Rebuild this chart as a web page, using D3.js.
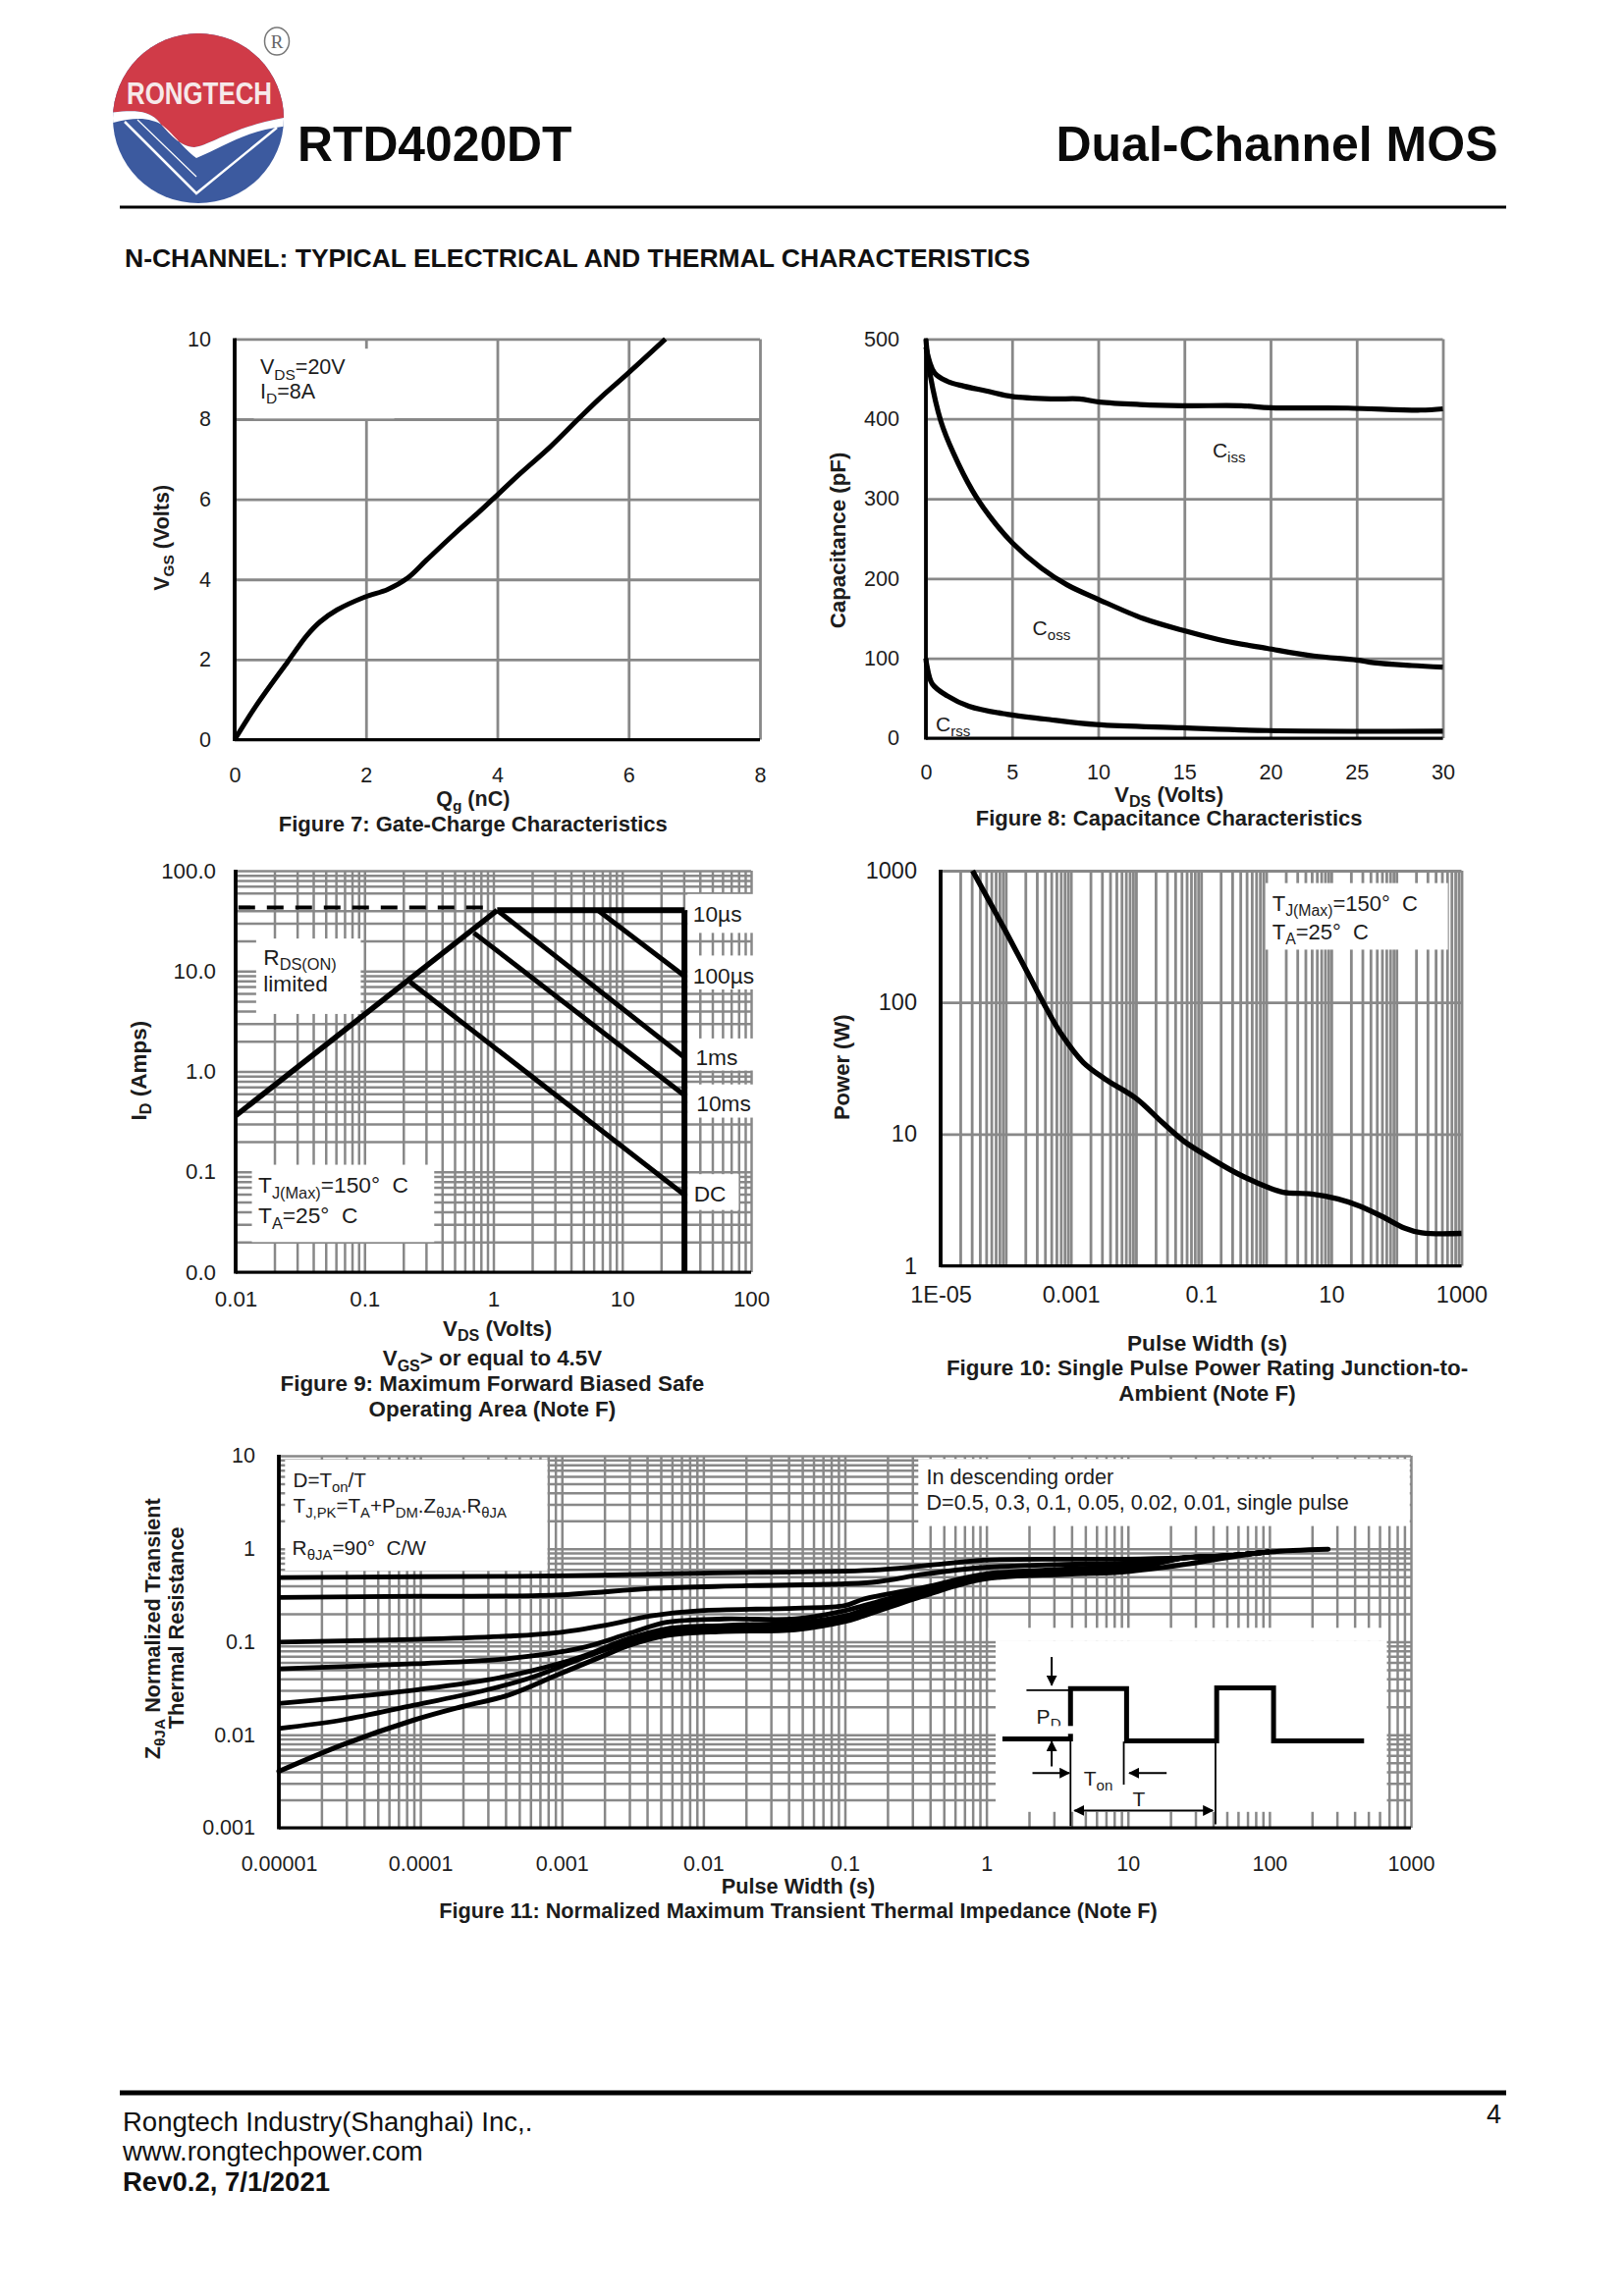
<!DOCTYPE html>
<html><head><meta charset="utf-8">
<script src="https://cdn.jsdelivr.net/npm/d3@7/dist/d3.min.js"></script>
<style>html,body{margin:0;padding:0;background:#fff}svg{display:block}text{font-family:"Liberation Sans",Arial,sans-serif;fill:#1c1c1c}</style>
</head><body><svg id="page" width="1654" height="2339" viewBox="0 0 1654 2339"></svg>
<script>
// ---------- Figure 7 ----------
const gateQg = [0,0.32,0.81,1.1,1.3,1.56,1.98,2.33,2.63,2.92,3.37,3.7,3.95,4.34,4.8,5.25,5.58,5.96,6.56];
const gateVgs = [0,0.83,1.95,2.6,2.94,3.24,3.56,3.75,4.03,4.48,5.17,5.65,6.03,6.63,7.3,8.03,8.55,9.1,10];
const gateXTicks = [0,2,4,6,8];
const gateYTicks = [0,2,4,6,8,10];
// ---------- Figure 8 ----------
const cissV = [0,0.5,1.24,2.2,3.5,5,7.4,8.9,10.1,12.4,14.9,18.3,20,24.5,28.7,30];
const cissC = [490,457.6,447,441,435,428,425,425,421,418,416.5,416.5,414,413.5,411,412.6];
const cossV = [0,0.05,0.25,0.87,1.6,2.7,3.7,5,6.7,8.2,10,12.6,15.1,17.3,19.8,22.5,25,26,28.2,30];
const cossC = [500,488,455,397,357,310,278,245,213,192,174,150,134,122,112.5,103,98,94.5,91,89];
const crssV = [0,0.05,0.37,1.24,2.5,4.7,6.9,9.9,14.9,19.8,30];
const crssC = [100,92,68,53,40,30,24,17,13,9.5,8.7];
const capXTicks = [0,5,10,15,20,25,30];
const capYTicks = [0,100,200,300,400,500];
// ---------- Figure 9 ----------
const soaRdsV = [0.01,1.07];      const soaRdsI = [0.362,40.3];
const soaTopV = [1.07,30.4];      const soaTopI = [40.3,40.3];
const soaEdgeV = [30.4,30.4];     const soaEdgeI = [40.3,0.01];
const soa10usV = [6.46,30.4];     const soa10usI = [40.3,8.9];
const soa100usV = [1.07,30.4];    const soa100usI = [40.3,1.38];
const soa1msV = [0.706,30.4];     const soa1msI = [24,0.58];
const soaDcV = [0.225,30.4];      const soaDcI = [7.8,0.059];
const soaLimitV = [0.0105,0.85];  const soaLimitI = [43,43];
const soaXTicks = [0.01,0.1,1,10,100];
const soaXLabels = ["0.01","0.1","1","10","100"];
const soaYTicks = [0.01,0.1,1,10,100];
const soaYLabels = ["0.0","0.1","1.0","10.0","100.0"];
// ---------- Figure 10 ----------
const powerT = [3.09e-5,9.55e-5,2.09e-4,4.17e-4,7.16e-4,1.55e-3,3.39e-3,0.01,0.0257,0.055,0.141,0.355,1.06,1.82,5.01,12.6,27.5,60.3,132,245,1000];
const powerW = [1000,361,174,90.8,57.3,35,26.1,18.7,12.2,8.81,6.55,5.04,3.94,3.62,3.51,3.22,2.84,2.37,1.94,1.78,1.76];
const powerXTicks = [1e-5,1e-3,0.1,10,1000];
const powerXLabels = ["1E-05","0.001","0.1","10","1000"];
const powerYTicks = [1,10,100,1000];
// ---------- Figure 11 ----------
const tailT = [25.5,49,100];
const tailZ = [0.80,0.84,0.925];
const z05T = [1e-5,9e-5,9.2e-4,9.5e-3,0.155,0.363,0.97,3.6,9.5];
const z05Z = [0.49,0.50,0.51,0.547,0.589,0.655,0.753,0.773,0.773];
const z03T = [1e-5,9e-5,9.2e-4,4.4e-3,0.0206,0.155,0.363,0.97,3.6,9.5];
const z03Z = [0.30,0.308,0.318,0.375,0.40,0.435,0.533,0.63,0.68,0.70];
const z01T = [1e-5,9e-5,4.2e-4,9.2e-4,2e-3,4.4e-3,9.5e-3,0.0447,0.1,0.136,0.363,0.97,3.6,9.5];
const z01Z = [0.099,0.106,0.115,0.125,0.15,0.191,0.216,0.229,0.245,0.288,0.385,0.533,0.604,0.65];
const z005T = [1e-5,9e-5,4.2e-4,1.36e-3,2.95e-3,5.5e-3,0.014,0.0447,0.1,0.136,0.363,0.97,3.6,9.5];
const z005Z = [0.051,0.058,0.066,0.0855,0.122,0.162,0.176,0.176,0.216,0.245,0.369,0.512,0.579,0.62];
const z002T = [1e-5,2.8e-5,9e-5,2.9e-4,6.3e-4,1.36e-3,2.95e-3,5.5e-3,0.014,0.0447,0.1,0.136,0.363,0.97,3.6,9.5];
const z002Z = [0.0217,0.025,0.0302,0.0386,0.0493,0.0685,0.108,0.138,0.15,0.16,0.19,0.22,0.34,0.492,0.556,0.60];
const z001T = [1e-5,2.8e-5,9e-5,2.9e-4,6.3e-4,1.36e-3,2.95e-3,5.5e-3,0.014,0.0447,0.1,0.136,0.363,0.97,3.6,9.5];
const z001Z = [0.0117,0.0144,0.0208,0.0302,0.0419,0.0658,0.0995,0.127,0.138,0.145,0.175,0.20,0.326,0.48,0.547,0.585];
const zSingleT = [1e-5,2.8e-5,9e-5,1.95e-4,4.2e-4,9.2e-4,2e-3,2.95e-3,5.5e-3,0.014,0.0447,0.1,0.136,0.363,0.97,3.6,9.5,25.5,49,100,260];
const zSingleZ = [0.00404,0.00778,0.0144,0.02,0.0267,0.0437,0.0714,0.091,0.117,0.129,0.135,0.165,0.19,0.313,0.472,0.533,0.565,0.68,0.80,0.925,0.99];
const zXTicks = [1e-5,1e-4,1e-3,0.01,0.1,1,10,100,1000];
const zXLabels = ["0.00001","0.0001","0.001","0.01","0.1","1","10","100","1000"];
const zYTicks = [0.001,0.01,0.1,1,10];
const zYLabels = ["0.001","0.01","0.1","1","10"];

// ---------- helpers ----------
const svg = d3.select("#page");
const GRID = "#888888";
const zip = (a,b) => a.map((v,i)=>[v,b[i]]);

function rich(g,x,y,str,o={}){
  const fs=o.size||21;
  const t=g.append("text").attr("x",x).attr("y",y).attr("font-size",fs)
    .attr("text-anchor",o.anchor||"start").attr("font-weight",o.bold?"700":"400");
  if(o.rotate) t.attr("transform",`rotate(-90,${x},${y})`);
  const parts=str.split(/_\{([^}]*)\}/);
  let shift=0;
  parts.forEach((p,i)=>{
    if(p==="") return;
    const sub=i%2===1, d=fs*0.24;
    const ts=t.append("tspan").text(p);
    if(sub){ ts.attr("font-size",fs*0.72).attr("dy",d); shift=d; }
    else if(shift){ ts.attr("dy",-shift); shift=0; }
  });
  return t;
}

function panel(c){
  const g=svg.append("g");
  const x=(c.xLog?d3.scaleLog():d3.scaleLinear()).domain(c.xDomain).range([c.L,c.R]);
  const y=(c.yLog?d3.scaleLog():d3.scaleLinear()).domain(c.yDomain).range([c.B,c.T]);
  const w=c.R-c.L,h=c.B-c.T;
  const ax=d3.scaleLinear().domain(c.zx).range([c.L,c.R]);
  const ay=d3.scaleLinear().domain(c.zy).range([c.T,c.B]);
  const xGrid=c.xLog?x.ticks():c.xTicks;
  let yGrid=c.yGridVals||(c.yLog?y.ticks():c.yTicks);
  g.append("g").attr("transform",`translate(0,${c.B})`)
    .call(d3.axisBottom(x).tickValues(xGrid).tickSize(-h).tickFormat(""))
    .call(s=>s.select(".domain").remove())
    .selectAll("line").attr("stroke",GRID).attr("stroke-width",c.gridW||2.5);
  g.append("g").attr("transform",`translate(${c.L},0)`)
    .call(d3.axisLeft(y).tickValues(yGrid).tickSize(-w).tickFormat(""))
    .call(s=>s.select(".domain").remove())
    .selectAll("line").attr("stroke",GRID).attr("stroke-width",c.gridW||2.5);
  (c.masks||[]).forEach(m=>{
    const fx=m[4]||ax;
    g.append("rect").attr("x",fx(m[0])).attr("y",ay(m[1]))
     .attr("width",fx(m[2])-fx(m[0])).attr("height",ay(m[3])-ay(m[1])).attr("fill","#fff");
  });
  g.append("line").attr("x1",c.L).attr("x2",c.L).attr("y1",c.T-1).attr("y2",c.B+1.5).attr("stroke","#000").attr("stroke-width",3.8);
  g.append("line").attr("x1",c.L).attr("x2",c.R).attr("y1",c.B).attr("y2",c.B).attr("stroke","#000").attr("stroke-width",3.2);
  const xa=g.append("g").attr("transform",`translate(0,${c.B})`)
    .call(d3.axisBottom(x).tickValues(c.xTicks).tickSize(0).tickPadding(c.xPad)
      .tickFormat((d,i)=>c.xLabels?c.xLabels[i]:String(d)));
  const ya=g.append("g").attr("transform",`translate(${c.L},0)`)
    .call(d3.axisLeft(y).tickValues(c.yTicks).tickSize(0).tickPadding(c.yPad)
      .tickFormat((d,i)=>c.yLabels?c.yLabels[i]:String(d)));
  [xa,ya].forEach(a=>{a.select(".domain").remove();
    a.selectAll("text").attr("font-size",c.tick||21.5).attr("font-family",'"Liberation Sans"').attr("fill","#1c1c1c");});
  return {g,x,y,ax,ay};
}
function curve(p,xs,ys,o={}){
  const line=d3.line().x(d=>p.x(d[0])).y(d=>p.y(d[1]));
  if(!o.straight) line.curve(d3.curveCatmullRom.alpha(0.5));
  p.g.append("path").attr("d",line(zip(xs,ys))).attr("fill","none").attr("stroke","#000")
    .attr("stroke-width",o.w||5).attr("stroke-dasharray",o.dash||null)
    .attr("stroke-linejoin","round").attr("stroke-linecap",o.cap||"butt");
}

// ---------- header ----------
const logo=svg.append("g");
const defs=svg.append("defs");
defs.append("clipPath").attr("id","lc").append("ellipse").attr("cx",202).attr("cy",120.5).attr("rx",87).attr("ry",86.5);
const lg=logo.append("g").attr("clip-path","url(#lc)");
lg.append("rect").attr("x",110).attr("y",30).attr("width",185).attr("height",180).attr("fill","#3c5a9f");
lg.append("path").attr("d","M110,115 C135,112 150,112 160,122 C172,136 184,150 198,150 C215,148 238,128 295,119 L295,30 L110,30 Z").attr("fill","#d03b48");
lg.append("path").attr("d","M110,115 C135,112 150,112 160,122 C172,136 184,150 198,150 C215,148 238,128 295,119 L295,128 C250,132 228,150 200,161 C184,150 170,125 155,123 C142,119 128,122 110,126 Z").attr("fill","#fff");
lg.append("path").attr("d","M127,124 L200,197 L282,130").attr("fill","none").attr("stroke","#fff").attr("stroke-width",2.5);
lg.append("path").attr("d","M140,122 L200,180").attr("fill","none").attr("stroke","#fff").attr("stroke-width",1.2);
logo.append("text").attr("x",129).attr("y",106).attr("font-size",31).attr("font-weight",700).attr("textLength",148)
  .attr("lengthAdjust","spacingAndGlyphs").style("fill","#f6e9ea").text("RONGTECH");
logo.append("ellipse").attr("cx",282).attr("cy",42).attr("rx",12.5).attr("ry",14).attr("fill","#fff").attr("stroke","#777").attr("stroke-width",1.5);
logo.append("text").attr("x",282).attr("y",49).attr("text-anchor","middle").attr("font-size",19)
  .style("font-family",'"Liberation Serif"').style("fill","#666").text("R");
const hdr=svg.append("g");
hdr.append("text").attr("x",303).attr("y",164).attr("font-size",49.8).attr("font-weight",700).style("fill","#0a0a0a").text("RTD4020DT");
hdr.append("text").attr("x",1525.5).attr("y",164).attr("text-anchor","end").attr("font-size",50).attr("font-weight",700).style("fill","#0a0a0a").text("Dual-Channel MOS");
hdr.append("line").attr("x1",122).attr("x2",1534).attr("y1",211).attr("y2",211).attr("stroke","#000").attr("stroke-width",3);
hdr.append("text").attr("x",127).attr("y",272).attr("font-size",26.5).attr("font-weight",700).style("fill","#111").text("N-CHANNEL: TYPICAL ELECTRICAL AND THERMAL CHARACTERISTICS");

// ---------- Fig 7 ----------
{
 const p=panel({L:239,R:774,T:345.4,B:753.5,xDomain:[0,8],yDomain:[0,10],xTicks:gateXTicks,yTicks:gateYTicks,
   xPad:28,yPad:24,gridW:2.8,zx:[250,1484],zy:[72,1237],masks:[[295,100,625,303]]});
 curve(p,gateQg,gateVgs,{w:5});
 const {g,ax,ay}=p;
 rich(g,ax(310),ay(175),"V_{DS}=20V",{size:21.5});
 rich(g,ax(310),ay(245),"I_{D}=8A",{size:21.5});
 rich(g,ax(810),ay(1430),"Q_{g} (nC)",{bold:1,anchor:"middle",size:21.5});
 rich(g,ax(810),ay(1503),"Figure 7: Gate-Charge Characteristics",{bold:1,anchor:"middle",size:22});
 rich(g,ax(95),ay(650),"V_{GS} (Volts)",{bold:1,anchor:"middle",rotate:1,size:21.5});
}
// ---------- Fig 8 ----------
{
 const p=panel({L:943,R:1469.5,T:345.4,B:752,xDomain:[0,30],yDomain:[0,500],xTicks:capXTicks,yTicks:capYTicks,tick:21.6,
   xPad:27,yPad:27,gridW:2.8,zx:[260,1472],zy:[72,1228]});
 curve(p,cissV,cissC,{w:5.2}); curve(p,cossV,cossC,{w:5.2}); curve(p,crssV,crssC,{w:5.2});
 const {g,ax,ay}=p;
 rich(g,ax(932),ay(415),"C_{iss}");
 rich(g,ax(510),ay(930),"C_{oss}");
 rich(g,ax(283),ay(1207),"C_{rss}");
 rich(g,ax(830),ay(1412),"V_{DS} (Volts)",{bold:1,anchor:"middle",size:22.3});
 rich(g,ax(830),ay(1480),"Figure 8: Capacitance Characteristics",{bold:1,anchor:"middle",size:22});
 rich(g,ax(72),ay(655),"Capacitance (pF)",{bold:1,anchor:"middle",rotate:1,size:22.3});
}
// ---------- Fig 9 ----------
{
 const p=panel({L:240,R:765,T:887,B:1296,xLog:1,yLog:1,xDomain:[0.01,100],yDomain:[0.01,100],tick:22.3,
   xTicks:soaXTicks,xLabels:soaXLabels,yTicks:soaYTicks,yLabels:soaYLabels,xPad:19,yPad:20,zx:[277,1484],zy:[45,1110],
   yGridVals:d3.scaleLog().domain([0.01,100]).ticks().filter(d=>d!==50),
   masks:[[325,225,570,425],[315,825,742,1030],[1335,107,1495,210],[1335,270,1495,360],[1335,490,1495,575],[1335,612,1495,700],[1335,850,1455,945]]});
 curve(p,soaEdgeV,soaEdgeI,{w:6,straight:1});
 curve(p,soaTopV,soaTopI,{w:6,straight:1});
 curve(p,soaRdsV,soaRdsI,{w:5.6,straight:1});
 curve(p,soa10usV,soa10usI,{w:5,straight:1});
 curve(p,soa100usV,soa100usI,{w:5,straight:1});
 curve(p,soa1msV,soa1msI,{w:5,straight:1});
 curve(p,soaDcV,soaDcI,{w:5,straight:1});
 curve(p,soaLimitV,soaLimitI,{w:4.2,straight:1,dash:"17 12"});
 const {g,ax,ay}=p;
 const s9=22.7;
 rich(g,ax(342),ay(295),"R_{DS(ON)}",{size:s9});
 rich(g,ax(342),ay(365),"limited",{size:s9});
 rich(g,ax(330),ay(900),"T_{J(Max)}=150°\u00A0\u00A0C",{size:s9});
 rich(g,ax(330),ay(980),"T_{A}=25°\u00A0\u00A0C",{size:s9});
 rich(g,ax(1348),ay(180),"10µs",{size:s9});
 rich(g,ax(1348),ay(345),"100µs",{size:s9});
 rich(g,ax(1354),ay(560),"1ms",{size:s9});
 rich(g,ax(1356),ay(682),"10ms",{size:s9});
 rich(g,ax(1350),ay(922),"DC",{size:s9});
 rich(g,ax(890),ay(1278),"V_{DS} (Volts)",{bold:1,anchor:"middle",size:22.3});
 rich(g,ax(878),ay(1358),"V_{GS}> or equal to 4.5V",{bold:1,anchor:"middle",size:22.3});
 rich(g,ax(878),ay(1426),"Figure 9: Maximum Forward Biased Safe",{bold:1,anchor:"middle",size:22.4});
 rich(g,ax(878),ay(1494),"Operating Area (Note F)",{bold:1,anchor:"middle",size:22.4});
 rich(g,ax(68),ay(575),"I_{D} (Amps)",{bold:1,anchor:"middle",rotate:1,size:22.5});
}
// ---------- Fig 10 ----------
{
 const p=panel({L:958,R:1488.5,T:887,B:1289.5,xLog:1,yLog:1,xDomain:[1e-5,1000],yDomain:[1,1000],tick:23.5,
   xTicks:powerXTicks,xLabels:powerXLabels,yTicks:powerYTicks,yGridVals:powerYTicks,xPad:21,yPad:24,zx:[285,1471],zy:[45,1096],
   gridW:2.8,masks:[[1025,78,1440,255]]});
 curve(p,powerT,powerW,{w:5.4});
 const {g,ax,ay}=p;
 rich(g,ax(1040),ay(152),"T_{J(Max)}=150°\u00A0\u00A0C",{size:22});
 rich(g,ax(1040),ay(228),"T_{A}=25°\u00A0\u00A0C",{size:22});
 rich(g,ax(892),ay(1322),"Pulse Width (s)",{bold:1,anchor:"middle",size:22.6});
 rich(g,ax(892),ay(1388),"Figure 10: Single Pulse Power Rating Junction-to-",{bold:1,anchor:"middle",size:22.4});
 rich(g,ax(892),ay(1455),"Ambient (Note F)",{bold:1,anchor:"middle",size:22.4});
 rich(g,ax(78),ay(568),"Power (W)",{bold:1,anchor:"middle",rotate:1,size:22});
}
// ---------- Fig 11 ----------
{
 const L=284,R=1437;
 const base=d3.scaleLog().domain([1e-5,1000]).range([L,R]);
 const rx=d3.scaleLinear().domain([305,1365]).range([base(1),base(1000)]);
 const p=panel({L,R,T:1483,B:1862,xLog:1,yLog:1,xDomain:[1e-5,1000],yDomain:[0.001,10],tick:21.5,
   xTicks:zXTicks,xLabels:zXLabels,yTicks:zYTicks,yLabels:zYLabels,xPad:29,yPad:24,zx:[317,317+8*296.6],zy:[38,1160],
   masks:[[330,50,880,385],[135,48,1362,250,rx],[328,595,1305,1112,rx],[310,557,1305,595,rx]]});
 const {g,ax,ay}=p;
 [[z05T,z05Z],[z03T,z03Z],[z01T,z01Z],[z005T,z005Z],[z002T,z002Z],[z001T,z001Z]].forEach(s=>{
   curve(p,s[0].concat(tailT),s[1].concat(tailZ),{w:4.8});
 });
 curve(p,zSingleT,zSingleZ,{w:5,cap:"round"});
 const inset=d3.line().x(d=>rx(d[0])).y(d=>ay(d[1]));
 const wave1=[[345,892],[515,892],[515,740],[655,740],[655,898],[880,898],[880,738],[1022,738],[1022,898],[1248,898]];
 g.append("path").attr("d",inset(wave1)).attr("fill","none").attr("stroke","#000").attr("stroke-width",5);
 [[[515,892],[515,1155]],[[648,900],[648,1030]],[[877,905],[877,1150]],[[405,745],[515,745]]].forEach(s=>{
   g.append("path").attr("d",inset(s)).attr("stroke","#000").attr("stroke-width",1.8).attr("fill","none");
 });
 defs.append("marker").attr("id","ah").attr("viewBox","0 0 10 10").attr("refX",9).attr("refY",5).attr("markerWidth",11).attr("markerHeight",11)
   .attr("markerUnits","userSpaceOnUse").attr("orient","auto-start-reverse").append("path").attr("d","M0,0 L10,5 L0,10 Z").attr("fill","#000");
 [[[468,645],[468,730]],[[468,975],[468,900]],[[420,995],[512,995]],[[755,995],[662,995]],[[525,1108],[870,1108]]].forEach((s,i)=>{
   const a=g.append("path").attr("d",inset(s)).attr("stroke","#000").attr("stroke-width",2).attr("fill","none").attr("marker-end","url(#ah)");
   if(i===4) a.attr("marker-start","url(#ah)");
 });
 rich(g,rx(430),ay(845),"P_{D}");
 g.append("rect").attr("x",rx(462)).attr("y",ay(853)).attr("width",32).attr("height",8).attr("fill","#fff");
 rich(g,rx(548),ay(1032),"T_{on}");
 rich(g,rx(670),ay(1095),"T");
 rich(g,ax(347),ay(132),"D=T_{on}/T",{size:20.6});
 rich(g,ax(347),ay(210),"T_{J,PK}=T_{A}+P_{DM}.Z_{θJA}.R_{θJA}",{size:20.6});
 rich(g,ax(345),ay(338),"R_{θJA}=90°\u00A0\u00A0C/W",{size:20.8});
 rich(g,rx(155),ay(123),"In descending order",{size:21.6});
 rich(g,rx(155),ay(200),"D=0.5, 0.3, 0.1, 0.05, 0.02, 0.01, single pulse",{size:21.6});
 const xc=813;
 rich(g,xc,ay(1357),"Pulse Width (s)",{bold:1,anchor:"middle",size:21.7});
 rich(g,xc,ay(1432),"Figure 11: Normalized Maximum Transient Thermal Impedance (Note F)",{bold:1,anchor:"middle",size:21.7});
 rich(g,ax(68),ay(560),"Z_{θJA} Normalized Transient",{bold:1,anchor:"middle",rotate:1,size:21.6});
 rich(g,ax(118),ay(557),"Thermal Resistance",{bold:1,anchor:"middle",rotate:1,size:21.8});
}
// ---------- footer ----------
const ft=svg.append("g");
ft.append("line").attr("x1",122).attr("x2",1534).attr("y1",2132).attr("y2",2132).attr("stroke","#000").attr("stroke-width",5);
ft.append("text").attr("x",125).attr("y",2170.5).attr("font-size",27.5).style("fill","#111").text("Rongtech Industry(Shanghai) Inc,.");
ft.append("text").attr("x",125).attr("y",2200.5).attr("font-size",27.5).style("fill","#111").text("www.rongtechpower.com");
ft.append("text").attr("x",125).attr("y",2231.5).attr("font-size",27.5).attr("font-weight",700).style("fill","#111").text("Rev0.2, 7/1/2021");
ft.append("text").attr("x",1521.5).attr("y",2162.5).attr("text-anchor","middle").attr("font-size",27).style("fill","#111").text("4");
</script></body></html>
